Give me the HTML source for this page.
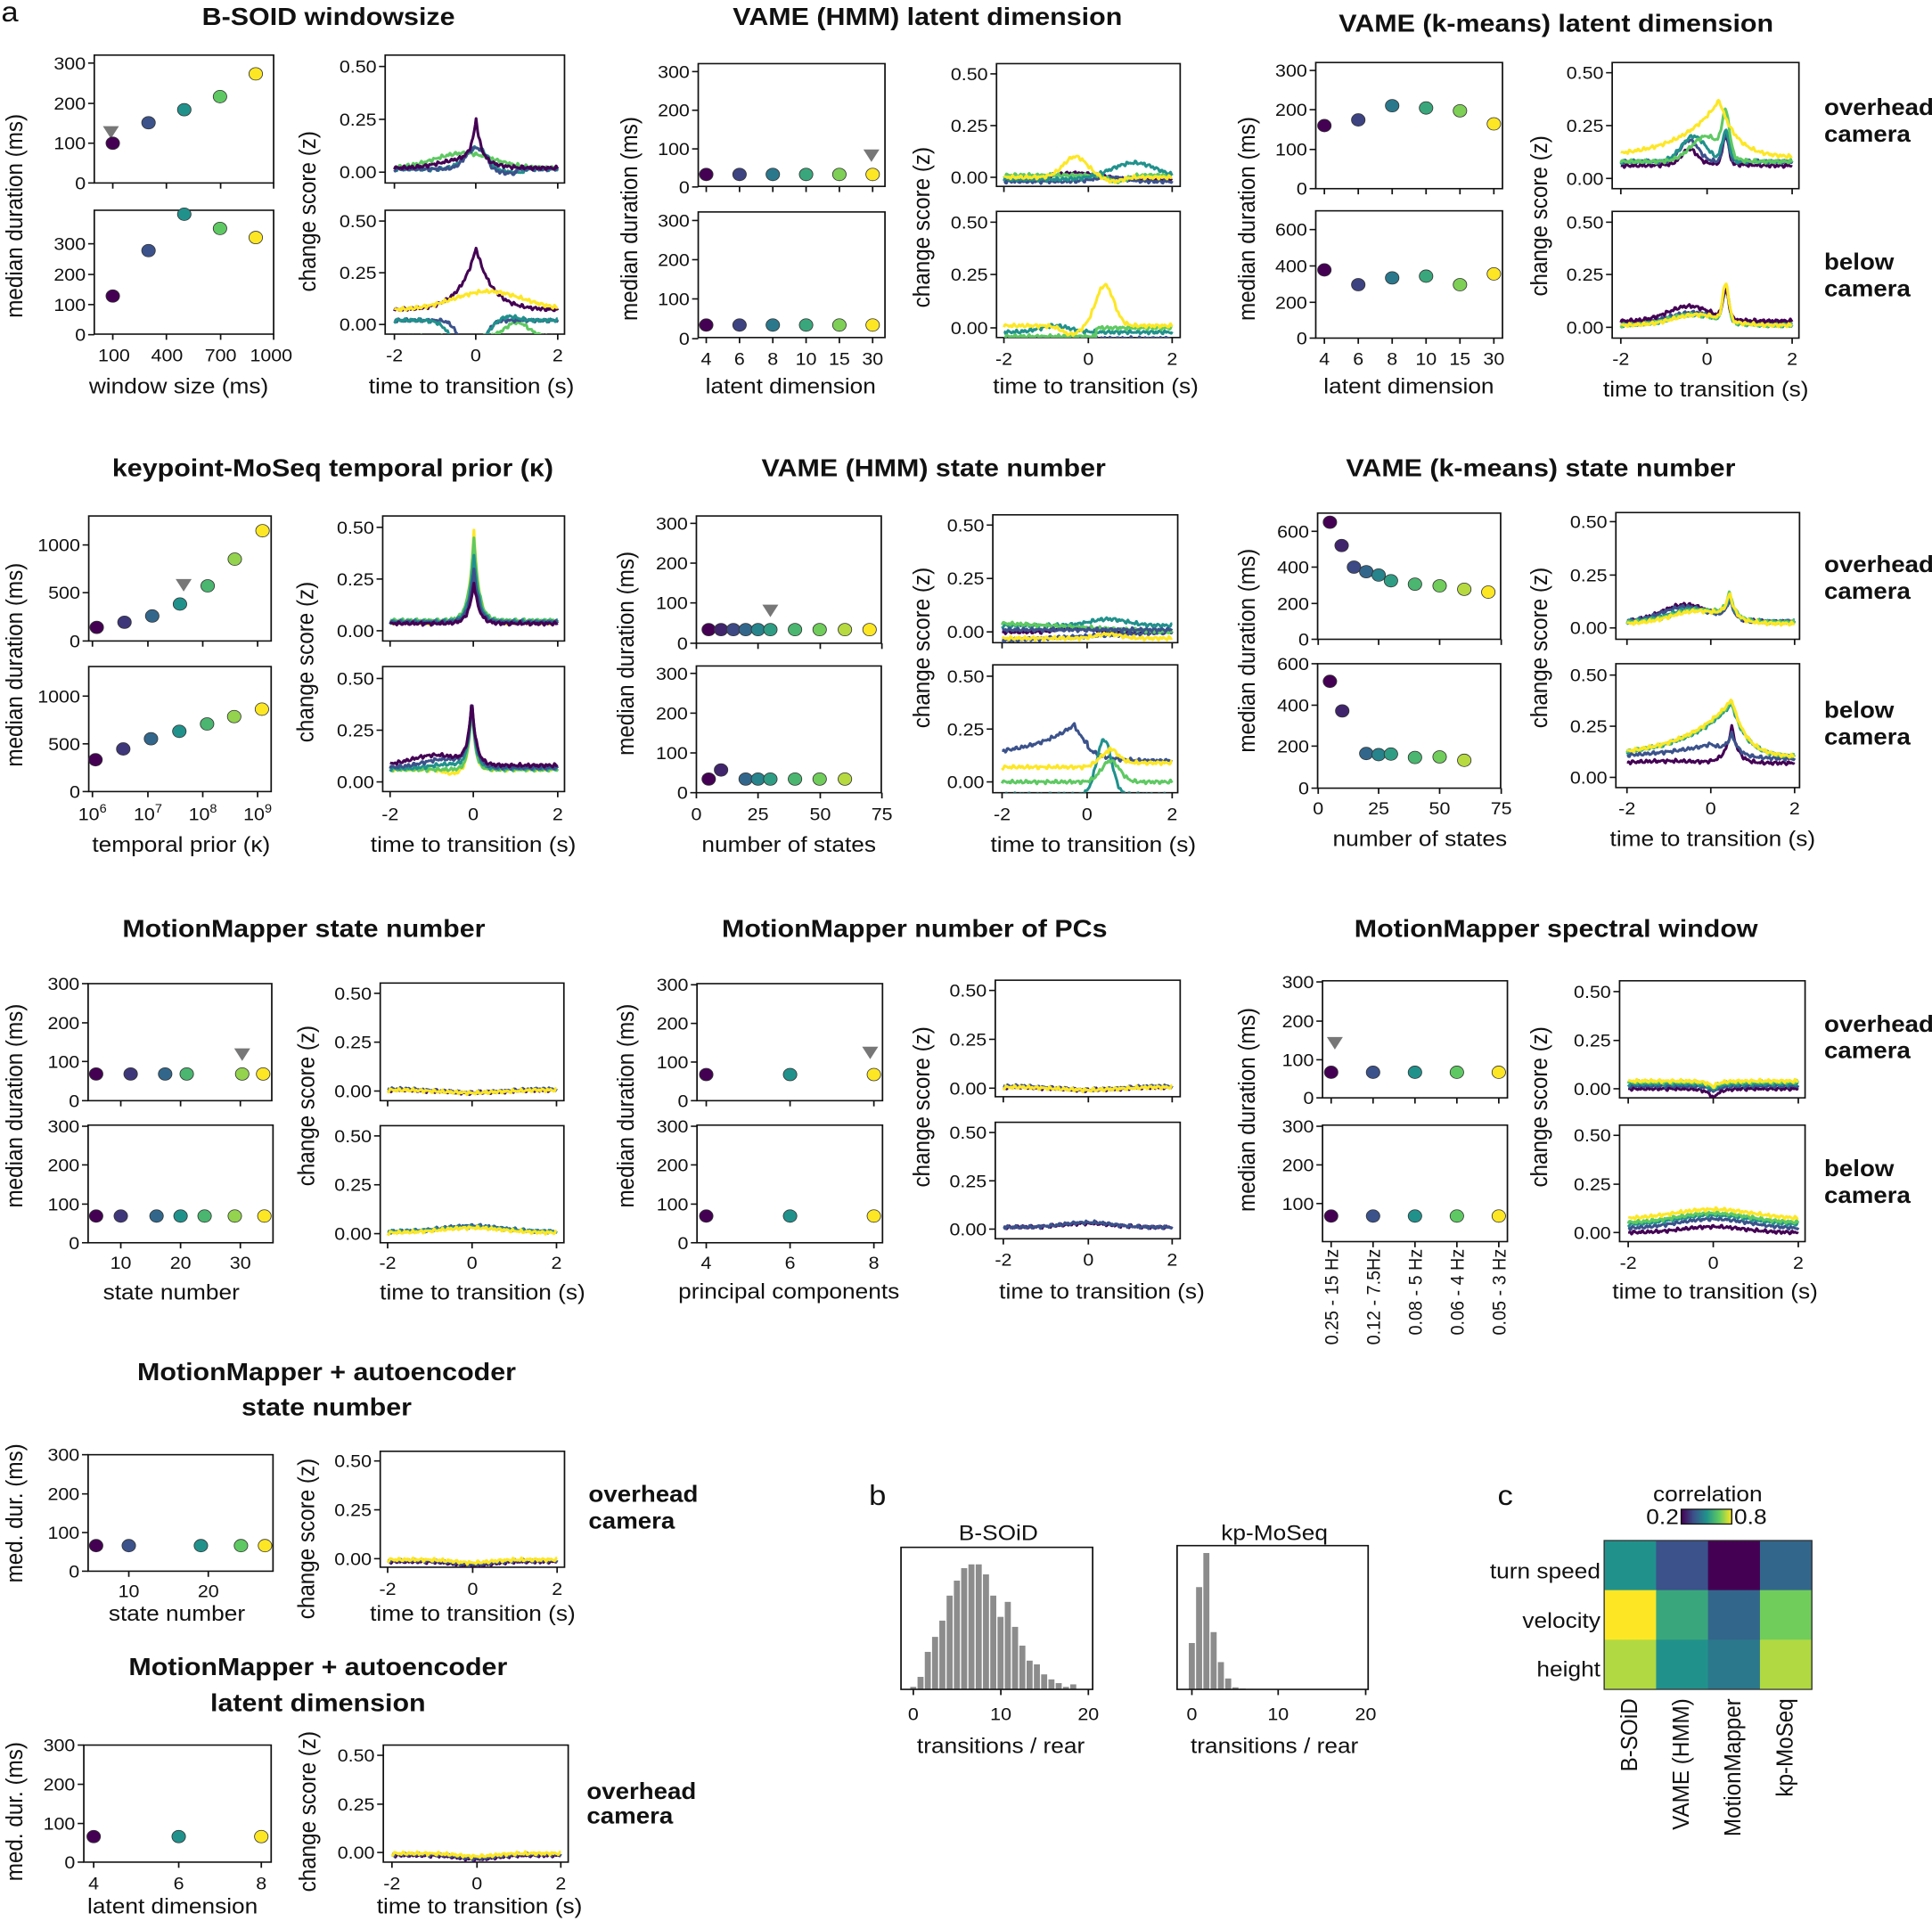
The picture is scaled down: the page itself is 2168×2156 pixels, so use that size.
<!DOCTYPE html>
<html><head><meta charset="utf-8">
<style>
html,body{margin:0;padding:0;background:#fff}
svg{display:block}
text{font-family:"Liberation Sans",sans-serif;fill:#111}
.t{font-size:31px}
.l{font-size:38px}
.h{font-size:44px;font-weight:bold}
.b{font-size:40px;font-weight:bold}
.p{font-size:50px}
</style></head><body>
<svg id="S" xmlns="http://www.w3.org/2000/svg" width="2168" height="2156" viewBox="0 0 2168 2156">
<defs><linearGradient id="vg" x1="0" x2="1" y1="0" y2="0">
<stop offset="0" stop-color="#440154"/><stop offset=".25" stop-color="#3b528b"/><stop offset=".5" stop-color="#21918c"/><stop offset=".75" stop-color="#5ec962"/><stop offset="1" stop-color="#fde725"/></linearGradient></defs>
<rect width="2168" height="2156" fill="#fff"/>
<g id="T" transform="scale(0.69156,0.63776)">
<text class="p" x="2" y="38">a</text>
<text class="h" x="533" y="44" text-anchor="middle">B-SOID windowsize</text>
<text class="h" x="1505" y="44" text-anchor="middle">VAME (HMM) latent dimension</text>
<text class="h" x="2525" y="56" text-anchor="middle">VAME (k-means) latent dimension</text>
<text class="h" x="540" y="838" text-anchor="middle">keypoint-MoSeq temporal prior (κ)</text>
<text class="h" x="1515" y="838" text-anchor="middle">VAME (HMM) state number</text>
<text class="h" x="2500" y="838" text-anchor="middle">VAME (k-means) state number</text>
<g class="b"><text x="2960" y="202">overhead</text><text x="2960" y="249">camera</text><text x="2960" y="474">below</text><text x="2960" y="521">camera</text>
<text x="2960" y="1007">overhead</text><text x="2960" y="1054">camera</text><text x="2960" y="1263">below</text><text x="2960" y="1310">camera</text></g>
<!-- y labels -->
<g class="l" text-anchor="middle">
<text transform="translate(36,380) rotate(-90)">median duration (ms)</text>
<text transform="translate(512,372) rotate(-90)">change score (z)</text>
<text transform="translate(1034,385) rotate(-90)">median duration (ms)</text>
<text transform="translate(1508,400) rotate(-90)">change score (z)</text>
<text transform="translate(2036,385) rotate(-90)">median duration (ms)</text>
<text transform="translate(2510,380) rotate(-90)">change score (z)</text>
<text transform="translate(36,1170) rotate(-90)">median duration (ms)</text>
<text transform="translate(508,1165) rotate(-90)">change score (z)</text>
<text transform="translate(1028,1150) rotate(-90)">median duration (ms)</text>
<text transform="translate(1508,1140) rotate(-90)">change score (z)</text>
<text transform="translate(2036,1145) rotate(-90)">median duration (ms)</text>
<text transform="translate(2510,1140) rotate(-90)">change score (z)</text>
<text x="290" y="692">window size (ms)</text>
<text x="765" y="692">time to transition (s)</text>
<text x="1283" y="692">latent dimension</text>
<text x="1778" y="692">time to transition (s)</text>
<text x="2286" y="692">latent dimension</text>
<text x="2768" y="698">time to transition (s)</text>
<text x="294" y="1499">temporal prior (κ)</text>
<text x="768" y="1499">time to transition (s)</text>
<text x="1280" y="1499">number of states</text>
<text x="1774" y="1499">time to transition (s)</text>
<text x="2304" y="1489">number of states</text>
<text x="2779" y="1489">time to transition (s)</text>
</g>
<g class="t" text-anchor="end">
<!-- B-SOID scatter -->
<text x="139" y="122">300</text><text x="139" y="193">200</text><text x="139" y="263">100</text><text x="139" y="333">0</text>
<text x="139" y="440">300</text><text x="139" y="494">200</text><text x="139" y="547">100</text><text x="139" y="600">0</text>
<text x="611" y="128">0.50</text><text x="611" y="221">0.25</text><text x="611" y="314">0.00</text>
<text x="611" y="400">0.50</text><text x="611" y="491">0.25</text><text x="611" y="582">0.00</text>
<!-- VAME HMM latent -->
<text x="1119" y="137">300</text><text x="1119" y="205">200</text><text x="1119" y="273">100</text><text x="1119" y="340">0</text>
<text x="1119" y="399">300</text><text x="1119" y="468">200</text><text x="1119" y="537">100</text><text x="1119" y="607">0</text>
<text x="1603" y="141">0.50</text><text x="1603" y="232">0.25</text><text x="1603" y="323">0.00</text>
<text x="1603" y="402">0.50</text><text x="1603" y="494">0.25</text><text x="1603" y="588">0.00</text>
<!-- VAME kmeans latent -->
<text x="2121" y="135">300</text><text x="2121" y="204">200</text><text x="2121" y="274">100</text><text x="2121" y="343">0</text>
<text x="2121" y="415">600</text><text x="2121" y="479">400</text><text x="2121" y="543">200</text><text x="2121" y="606">0</text>
<text x="2602" y="139">0.50</text><text x="2602" y="232">0.25</text><text x="2602" y="325">0.00</text>
<text x="2602" y="402">0.50</text><text x="2602" y="494">0.25</text><text x="2602" y="587">0.00</text>
<!-- kp-MoSeq -->
<text x="130" y="970">1000</text><text x="130" y="1054">500</text><text x="130" y="1139">0</text>
<text x="130" y="1236">1000</text><text x="130" y="1320">500</text><text x="130" y="1404">0</text>
<text x="607" y="939">0.50</text><text x="607" y="1030">0.25</text><text x="607" y="1121">0.00</text>
<text x="607" y="1205">0.50</text><text x="607" y="1296">0.25</text><text x="607" y="1387">0.00</text>
<!-- VAME HMM state -->
<text x="1116" y="932">300</text><text x="1116" y="1002">200</text><text x="1116" y="1072">100</text><text x="1116" y="1143">0</text>
<text x="1116" y="1196">300</text><text x="1116" y="1266">200</text><text x="1116" y="1336">100</text><text x="1116" y="1406">0</text>
<text x="1597" y="935">0.50</text><text x="1597" y="1029">0.25</text><text x="1597" y="1123">0.00</text>
<text x="1597" y="1201">0.50</text><text x="1597" y="1294">0.25</text><text x="1597" y="1387">0.00</text>
<!-- VAME kmeans state -->
<text x="2124" y="946">600</text><text x="2124" y="1009">400</text><text x="2124" y="1073">200</text><text x="2124" y="1136">0</text>
<text x="2124" y="1179">600</text><text x="2124" y="1252">400</text><text x="2124" y="1324">200</text><text x="2124" y="1398">0</text>
<text x="2608" y="929">0.50</text><text x="2608" y="1023">0.25</text><text x="2608" y="1116">0.00</text>
<text x="2608" y="1199">0.50</text><text x="2608" y="1289">0.25</text><text x="2608" y="1379">0.00</text>
</g>
<g class="t" text-anchor="middle">
<text x="185" y="636">100</text><text x="271" y="636">400</text><text x="358" y="636">700</text><text x="440" y="636">1000</text>
<text x="640" y="636">-2</text><text x="772" y="636">0</text><text x="905" y="636">2</text>
<text x="1146" y="642">4</text><text x="1200" y="642">6</text><text x="1254" y="642">8</text><text x="1308" y="642">10</text><text x="1362" y="642">15</text><text x="1416" y="642">30</text>
<text x="1629" y="642">-2</text><text x="1766" y="642">0</text><text x="1902" y="642">2</text>
<text x="2149" y="642">4</text><text x="2204" y="642">6</text><text x="2259" y="642">8</text><text x="2314" y="642">10</text><text x="2369" y="642">15</text><text x="2424" y="642">30</text>
<text x="2630" y="642">-2</text><text x="2770" y="642">0</text><text x="2908" y="642">2</text>
<text x="150" y="1443">10<tspan font-size="21" dy="-13">6</tspan></text><text x="240" y="1443">10<tspan font-size="21" dy="-13">7</tspan></text><text x="329" y="1443">10<tspan font-size="21" dy="-13">8</tspan></text><text x="418" y="1443">10<tspan font-size="21" dy="-13">9</tspan></text>
<text x="633" y="1443">-2</text><text x="768" y="1443">0</text><text x="905" y="1443">2</text>
<text x="1130" y="1443">0</text><text x="1230" y="1443">25</text><text x="1331" y="1443">50</text><text x="1431" y="1443">75</text>
<text x="1626" y="1443">-2</text><text x="1764" y="1443">0</text><text x="1902" y="1443">2</text>
<text x="2139" y="1433">0</text><text x="2237" y="1433">25</text><text x="2336" y="1433">50</text><text x="2436" y="1433">75</text>
<text x="2640" y="1433">-2</text><text x="2776" y="1433">0</text><text x="2912" y="1433">2</text>
</g>
</g>

<g id="B" transform="translate(0,1000) scale(0.69156,0.63776)">
<text class="h" x="493" y="81" text-anchor="middle">MotionMapper state number</text>
<text class="h" x="1484" y="81" text-anchor="middle">MotionMapper number of PCs</text>
<text class="h" x="2525" y="81" text-anchor="middle">MotionMapper spectral window</text>
<text class="h" x="530" y="861" text-anchor="middle">MotionMapper + autoencoder</text>
<text class="h" x="530" y="923" text-anchor="middle">state number</text>
<text class="h" x="516" y="1380" text-anchor="middle">MotionMapper  + autoencoder</text>
<text class="h" x="516" y="1443" text-anchor="middle">latent dimension</text>
<g class="b"><text x="2960" y="248">overhead</text><text x="2960" y="294">camera</text><text x="2960" y="502">below</text><text x="2960" y="549">camera</text>
<text x="955" y="1075">overhead</text><text x="955" y="1122">camera</text>
<text x="952" y="1598">overhead</text><text x="952" y="1641">camera</text></g>
<text class="p" x="1410" y="1080">b</text>
<text class="p" x="2430" y="1080">c</text>
<g class="l" text-anchor="middle">
<text transform="translate(36,378) rotate(-90)">median duration (ms)</text>
<text transform="translate(510,378) rotate(-90)">change score (z)</text>
<text transform="translate(1028,378) rotate(-90)">median duration (ms)</text>
<text transform="translate(1508,380) rotate(-90)">change score (z)</text>
<text transform="translate(2036,385) rotate(-90)">median duration (ms)</text>
<text transform="translate(2510,380) rotate(-90)">change score (z)</text>
<text transform="translate(36,1095) rotate(-90)">med. dur. (ms)</text>
<text transform="translate(510,1140) rotate(-90)">change score (z)</text>
<text transform="translate(36,1620) rotate(-90)">med. dur. (ms)</text>
<text transform="translate(512,1620) rotate(-90)">change score (z)</text>
<text x="278" y="719">state number</text>
<text x="783" y="719">time to transition (s)</text>
<text x="1280" y="717">principal components</text>
<text x="1788" y="717">time to transition (s)</text>
<text x="2783" y="717">time to transition (s)</text>
<text x="287" y="1284">state number</text>
<text x="767" y="1284">time to transition (s)</text>
<text x="280" y="1799">latent dimension</text>
<text x="778" y="1799">time to transition (s)</text>
<text x="1620" y="1142">B-SOiD</text>
<text x="2068" y="1142">kp-MoSeq</text>
<text x="1624" y="1517">transitions / rear</text>
<text x="2068" y="1517">transitions / rear</text>
<text x="2771" y="1074">correlation</text>
</g>
<g class="l" text-anchor="end">
<text x="2724" y="1114">0.2</text>
<text x="2597" y="1210">turn speed</text><text x="2597" y="1297">velocity</text><text x="2597" y="1382">height</text>
<text transform="translate(2656,1421) rotate(-90)">B-SOiD</text>
<text transform="translate(2740,1421) rotate(-90)">VAME (HMM)</text>
<text transform="translate(2824,1421) rotate(-90)">MotionMapper</text>
<text transform="translate(2909,1421) rotate(-90)">kp-MoSeq</text>
</g>
<text class="l" x="2814" y="1114">0.8</text>
<rect x="2728" y="1088" width="82" height="26" fill="url(#vg)" stroke="#111" stroke-width="2"/>
<g class="t" text-anchor="end">
<text x="129" y="174">300</text><text x="129" y="243">200</text><text x="129" y="311">100</text><text x="129" y="380">0</text>
<text x="129" y="425">300</text><text x="129" y="493">200</text><text x="129" y="562">100</text><text x="129" y="630">0</text>
<text x="603" y="191">0.50</text><text x="603" y="277">0.25</text><text x="603" y="363">0.00</text>
<text x="603" y="442">0.50</text><text x="603" y="528">0.25</text><text x="603" y="614">0.00</text>
<text x="1117" y="176">300</text><text x="1117" y="244">200</text><text x="1117" y="312">100</text><text x="1117" y="380">0</text>
<text x="1117" y="425">300</text><text x="1117" y="493">200</text><text x="1117" y="562">100</text><text x="1117" y="630">0</text>
<text x="1601" y="186">0.50</text><text x="1601" y="272">0.25</text><text x="1601" y="358">0.00</text>
<text x="1601" y="436">0.50</text><text x="1601" y="521">0.25</text><text x="1601" y="606">0.00</text>
<text x="2132" y="171">300</text><text x="2132" y="240">200</text><text x="2132" y="308">100</text><text x="2132" y="375">0</text>
<text x="2132" y="425">300</text><text x="2132" y="493">200</text><text x="2132" y="561">100</text>
<text x="2614" y="188">0.50</text><text x="2614" y="274">0.25</text><text x="2614" y="359">0.00</text>
<text x="2614" y="441">0.50</text><text x="2614" y="527">0.25</text><text x="2614" y="612">0.00</text>
<text x="129" y="1003">300</text><text x="129" y="1072">200</text><text x="129" y="1140">100</text><text x="129" y="1208">0</text>
<text x="603" y="1014">0.50</text><text x="603" y="1100">0.25</text><text x="603" y="1186">0.00</text>
<text x="122" y="1514">300</text><text x="122" y="1583">200</text><text x="122" y="1652">100</text><text x="122" y="1720">0</text>
<text x="608" y="1532">0.50</text><text x="608" y="1618">0.25</text><text x="608" y="1703">0.00</text>
</g>
<g class="t" text-anchor="middle">
<text x="196" y="665">10</text><text x="293" y="665">20</text><text x="390" y="665">30</text>
<text x="629" y="665">-2</text><text x="766" y="665">0</text><text x="903" y="665">2</text>
<text x="1146" y="665">4</text><text x="1282" y="665">6</text><text x="1418" y="665">8</text>
<text x="1628" y="659">-2</text><text x="1766" y="659">0</text><text x="1902" y="659">2</text>
<text x="2642" y="665">-2</text><text x="2780" y="665">0</text><text x="2918" y="665">2</text>
<text x="209" y="1243">10</text><text x="338" y="1243">20</text>
<text x="629" y="1239">-2</text><text x="767" y="1239">0</text><text x="904" y="1239">2</text>
<text x="152" y="1757">4</text><text x="290" y="1757">6</text><text x="424" y="1757">8</text>
<text x="636" y="1757">-2</text><text x="774" y="1757">0</text><text x="910" y="1757">2</text>
<text x="1482" y="1459">0</text><text x="1624" y="1459">10</text><text x="1766" y="1459">20</text>
<text x="1934" y="1459">0</text><text x="2074" y="1459">10</text><text x="2216" y="1459">20</text>
</g>
<g class="t" text-anchor="end">
<text transform="translate(2171,630) rotate(-90)">0.25 - 15 Hz</text>
<text transform="translate(2239,630) rotate(-90)">0.12 - 7.5Hz</text>
<text transform="translate(2307,630) rotate(-90)">0.08 - 5 Hz</text>
<text transform="translate(2375,630) rotate(-90)">0.06 - 4 Hz</text>
<text transform="translate(2443,630) rotate(-90)">0.05 - 3 Hz</text>
</g>
</g>
</svg>
<script>
(function(){
var NS="http://www.w3.org/2000/svg";
function el(p,n,a){var e=document.createElementNS(NS,n);for(var k in a)e.setAttribute(k,a[k]);p.appendChild(e);return e;}
var st=[[68,1,84],[59,82,139],[33,145,140],[94,201,98],[253,231,37]];
function vir(f){f=Math.max(0,Math.min(1,f))*4;var i=Math.min(3,Math.floor(f)),r=f-i,a=st[i],b=st[i+1];
return "rgb("+[0,1,2].map(function(j){return Math.round(a[j]+(b[j]-a[j])*r)}).join(",")+")";}
function vc(i,n){return vir(n<2?0:i/(n-1));}
var T=document.getElementById("T"),B=document.getElementById("B");
var cid=0;
function frame(g,b,yt,xt){
 el(g,"rect",{x:b[0],y:b[1],width:b[2]-b[0],height:b[3]-b[1],fill:"none",stroke:"#111","stroke-width":2.5});
 yt.forEach(function(y){el(g,"line",{x1:b[0]-10,x2:b[0],y1:y,y2:y,stroke:"#111","stroke-width":2.5});});
 (xt||[]).forEach(function(x){el(g,"line",{x1:x,x2:x,y1:b[3],y2:b[3]+10,stroke:"#111","stroke-width":2.5});});
}
function scat(g,b,yt,xt,xs,ys,cols,tri){
 frame(g,b,yt,xt);
 var n=xs.length;
 if(tri)el(g,"polygon",{points:(tri[0]-13)+","+(tri[1]-11)+" "+(tri[0]+13)+","+(tri[1]-11)+" "+tri[0]+","+(tri[1]+11),fill:"#777"});
 for(var i=0;i<n;i++){var y=Array.isArray(ys)?ys[i]:ys;
  el(g,"circle",{cx:xs[i],cy:y,r:11,fill:cols?cols[i]:vc(i,n),stroke:"#333","stroke-width":1.2});}
}
function G(t,c,w){return Math.exp(-Math.pow((t-c)/w,2));}
function C(t,c,w){return Math.exp(-Math.abs(t-c)/w);}
function A(t,c,wl,wr){return t<c?Math.exp((t-c)/wl):Math.exp(-(t-c)/wr);}
function nz(t,s){return 0.004*(Math.sin(37*t+s)+Math.sin(61*t+2*s)+0.7*Math.sin(91*t+3*s));}
var L={
bs1:[[3,function(t){return .02+.07*G(t,-.3,1.0)}],[2,function(t){return .015+.1*G(t,0,.4)-(t>.3&&t<1.2?.015:0)}],[1,function(t){return .015+.1*G(t,0,.35)-(t>.3&&t<1?.02:0)}],[0,function(t){return .02+.2*C(t,0,.12)+.04*G(t,-.3,.8)}]],
bs2:[[3,function(t){return -.06+.07*G(t,1,.4)}],[1,function(t){return .02-.2*G(t,-.1,.35)+(t>.5?.0:0)}],[2,function(t){return .02-.2*G(t,-.2,.45)+.02*G(t,.8,.3)}],[0,function(t){return .07+.3*C(t,0,.4)}],[4,function(t){return .07+.09*G(t,.3,1.2)}]],
vh1:[[0,function(t){return -.01+.03*G(t,-.3,.8)}],[1,function(t){return -.02+.02*G(t,.5,.5)}],[3,function(t){return .01-.03*G(t,.7,.3)}],[2,function(t){return -.01+.08*G(t,1.1,.8)}],[4,function(t){return .0+.1*G(t,-.3,.4)-.02*G(t,.6,.3)}]],
vh2:[[1,function(t){return -.05}],[2,function(t){return -.02+.03*G(t,-.8,.5)}],[3,function(t){return t>.2?0:-.04}],[4,function(t){return .01+.19*G(t,.4,.3)-.04*G(t,-.4,.3)}]],
vk1:[[0,function(t){return .06+.07*G(t,-.4,.25)+.13*G(t,.45,.1)+.01*G(t,0,1)}],[1,function(t){return .08+.1*G(t,-.4,.3)+.13*G(t,.45,.1)}],[2,function(t){return .08+.12*G(t,-.3,.4)+.14*G(t,.45,.12)}],[3,function(t){return .08+.12*G(t,0,.5)+.19*G(t,.45,.12)}],[4,function(t){return .1+.27*A(t,.3,.9,.4)}]],
vk2:[[1,function(t){return .02+.05*G(t,-.3,.8)+.14*G(t,.45,.1)}],[2,function(t){return .01+.05*G(t,-.3,.8)+.15*G(t,.45,.1)}],[3,function(t){return .01+.05*G(t,-.3,.8)+.16*G(t,.45,.1)}],[0,function(t){return .03+.07*G(t,-.4,.7)+.13*G(t,.45,.1)}],[4,function(t){return .01+.05*G(t,-.2,.8)+.17*G(t,.45,.1)}]],
kp1:[[4,function(t){return .04+.44*C(t,0,.12)}],[3,function(t){return .05+.4*C(t,0,.12)}],[2,function(t){return .045+.32*C(t,0,.12)}],[1,function(t){return .04+.26*C(t,0,.12)}],[0,function(t){return .035+.2*C(t,0,.12)}]],
kp2:[[4,function(t){return .06+.33*C(t,-.05,.08)-.02*G(t,-.5,.3)}],[3,function(t){return .06+.33*C(t,-.05,.08)}],[2,function(t){return .065+.32*C(t,-.05,.09)+.02*G(t,-.6,.6)}],[1,function(t){return .07+.31*C(t,-.05,.1)+.04*G(t,-.7,.7)}],[0,function(t){return .08+.3*C(t,-.05,.1)+.05*G(t,-.9,.8)}]],
vhs1:[[0,function(t){return .0+.02*G(t,-.3,.5)}],[1,function(t){return -.02+.01*t}],[2,function(t){return .03+.03*G(t,.5,.6)}],[3,function(t){return .02-.01*t}],[4,function(t){return -.03+.02*G(t,.5,.4)}],[1,function(t){return .01}]],
vhs2:[[1,function(t){return .12+.15*A(t,-.3,1,.35)-.02*(t>0?1:0)}],[2,function(t){return -.06+.26*G(t,.4,.25)}],[4,function(t){return .07+.07*G(t,.5,.3)+.02*(t>.5?1:0)}],[3,function(t){return .0+.1*G(t,.55,.3)}]],
vks1:[[0,function(t){return .03+.08*G(t,-.6,.8)+.1*C(t,.45,.12)}],[1,function(t){return .03+.07*G(t,-.6,.8)+.1*C(t,.45,.12)}],[2,function(t){return .03+.06*G(t,-.4,.8)+.11*C(t,.45,.12)}],[3,function(t){return .025+.06*G(t,-.3,.9)+.12*C(t,.45,.12)}],[4,function(t){return .02+.06*G(t,-.3,.9)+.12*C(t,.45,.12)}]],
vks2:[[0,function(t){return .07+.18*C(t,.5,.15)+.01*G(t,-1,1)}],[1,function(t){return .09+.07*A(t,0,1.5,.5)+.1*C(t,.5,.15)}],[2,function(t){return .1+.26*A(t,.5,1.1,.35)}],[3,function(t){return .1+.27*A(t,.5,1.1,.35)}],[4,function(t){return .1+.28*A(t,.5,1.1,.35)}]],
mm1:[[0,function(t){return .005-.015*Math.max(0,1-Math.abs(t)/1.5)}],[1,function(t){return .01-.02*Math.max(0,1-Math.abs(t)/1.5)}],[4,function(t){return .005-.015*Math.max(0,1-Math.abs(t)/1.5)}]],
mm2:[[1,function(t){return .01+.03*G(t,0,1)}],[2,function(t){return .01+.025*G(t,0,1)}],[4,function(t){return .005+.025*G(t,0,1)}]],
pc2:[[0,function(t){return .01+.02*G(t,0,.8)}],[1,function(t){return .01+.025*G(t,0,.8)}]],
sw1:[[0,function(t){return .0-.05*C(t,0,.15)}],[1,function(t){return .015-.03*C(t,0,.15)}],[2,function(t){return .025-.03*C(t,0,.15)}],[3,function(t){return .035-.03*C(t,0,.15)}],[4,function(t){return .04-.03*C(t,0,.15)}]],
sw2:[[0,function(t){return .0+.03*G(t,0,1)}],[1,function(t){return .02+.05*G(t,0,1.2)}],[2,function(t){return .04+.05*G(t,0,1.2)}],[3,function(t){return .05+.05*G(t,0,1.2)}],[4,function(t){return .07+.05*G(t,0,1.3)}]],
ae:[[0,function(t){return -.015-.02*G(t,0,.6)}],[1,function(t){return -.01-.02*G(t,0,.6)}],[4,function(t){return -.005-.015*G(t,0,.6)}]]
};
function lp(g,b,y,x,key){
 frame(g,b,y,x);
 var id="c"+(cid++);
 var cp=el(g,"clipPath",{id:id});el(cp,"rect",{x:b[0],y:b[1],width:b[2]-b[0],height:b[3]-b[1]});
 var k=(y[2]-y[1])/0.25, x0=x[0], x1=x[2];
 L[key].forEach(function(ln,li){var d="";
  for(var i=0;i<=200;i++){var t=-2+4*i/200;var v=ln[1](t)+nz(t,li+1);
   d+=(i?"L":"M")+(x0+(x1-x0)*i/200).toFixed(1)+","+(y[2]-v*k).toFixed(1);}
  el(g,"path",{d:d,fill:"none",stroke:vir(ln[0]/4),"stroke-width":4.5,"clip-path":"url(#"+id+")","stroke-linejoin":"round"});});
}
var c10=function(idx){return idx.map(function(i){return vc(i,10)});};
// top scatters
scat(T,[153,97,444,322],[111,182,252,322],[183,270,358,444],[183,241,299,357,415],[252,216,193,170,130],null,[180,233]);
scat(T,[153,370,444,588],[429,483,536,589],[183,270,358,444],[183,241,299,357,415],[521,441,377,402,418]);
var xv=[1146,1200,1254,1308,1362,1416];
scat(T,[1133,112,1436,328],[126,194,262,329],xv,xv,307,null,[1414,274]);
scat(T,[1133,373,1436,594],[388,457,526,596],xv,xv,572);
var xk=[2149,2204,2259,2314,2369,2424];
scat(T,[2135,110,2438,332],[124,193,263,332],xk,xk,[221,211,186,190,195,218]);
scat(T,[2135,371,2438,595],[404,468,532,595],xk,xk,[475,501,489,486,501,482]);
scat(T,[144,908,440,1128],[959,1043,1128],[150,240,329,418],[157,202,247,292,337,381,426],[1104,1095,1084,1063,1031,984,934],null,[298,1030]);
scat(T,[144,1173,440,1393],[1225,1309,1393],[150,240,329,418],[155,200,245,291,336,380,425],[1337,1318,1300,1287,1274,1261,1248]);
scat(T,[1130,908,1430,1132],[921,991,1061,1132],[1130,1230,1331,1431],[1150,1170,1190,1210,1230,1250,1290,1330,1371,1411],1108,null,[1250,1075]);
scat(T,[1130,1172,1430,1395],[1185,1255,1325,1395],[1130,1230,1331,1431],[1150,1170,1210,1230,1250,1290,1330,1371],[1371,1355,1371,1371,1371,1371,1371,1371],c10([0,1,3,4,5,6,7,8]));
scat(T,[2138,903,2435,1125],[935,998,1062,1125],[2139,2237,2336,2436],[2158,2177,2197,2217,2237,2257,2296,2336,2376,2415],[919,960,998,1006,1012,1022,1028,1031,1037,1042]);
scat(T,[2138,1168,2435,1387],[1168,1241,1313,1387],[2139,2237,2336,2436],[2158,2178,2217,2237,2257,2296,2336,2376],[1199,1251,1326,1328,1327,1333,1332,1338],c10([0,1,3,4,5,6,7,8]));
// top lines
lp(T,[625,97,916,322],[117,210,303],[640,772,905],"bs1");
lp(T,[625,370,916,588],[389,480,571],[640,772,905],"bs2");
lp(T,[1617,112,1915,328],[130,221,312],[1629,1766,1902],"vh1");
lp(T,[1617,372,1915,594],[391,483,577],[1629,1766,1902],"vh2");
lp(T,[2616,110,2919,332],[128,221,314],[2630,2770,2908],"vk1");
lp(T,[2616,372,2919,595],[391,483,576],[2630,2770,2908],"vk2");
lp(T,[621,908,916,1128],[928,1019,1110],[633,768,905],"kp1");
lp(T,[621,1173,916,1393],[1194,1285,1376],[633,768,905],"kp2");
lp(T,[1611,906,1911,1131],[924,1018,1112],[1626,1764,1902],"vhs1");
lp(T,[1611,1170,1911,1395],[1190,1283,1376],[1626,1764,1902],"vhs2");
lp(T,[2622,902,2920,1125],[918,1012,1105],[2640,2776,2912],"vks1");
lp(T,[2622,1168,2920,1386],[1188,1278,1368],[2640,2776,2912],"vks2");
// bottom scatters
var c7=function(idx){return idx.map(function(i){return vc(i,7)});};
scat(B,[143,163,441,369],[163,232,300,369],[196,293,390],[156,212,268,303,393,427],322,c7([0,1,2,4,5,6]),[393,288]);
scat(B,[143,412,443,619],[414,482,551,619],[196,293,390],[156,196,254,293,332,381,429],572);
scat(B,[1131,163,1432,369],[165,233,301,369],[1146,1282,1418],[1146,1282,1418],323,null,[1412,285]);
scat(B,[1131,412,1432,619],[414,482,551,619],[1146,1282,1418],[1146,1282,1418],572);
var xs5=[2160,2228,2296,2364,2432];
scat(B,[2146,158,2446,364],[160,229,297,364],xs5,xs5,319,null,[2166,268]);
scat(B,[2146,412,2446,617],[414,482,550],xs5,xs5,572);
scat(B,[143,992,443,1197],[992,1061,1129,1197],[209,338],[156,209,326,391,430],1152);
scat(B,[136,1503,440,1709],[1503,1572,1641,1709],[152,290,424],[152,290,424],1664);
lp(B,[617,162,915,369],[180,266,352],[629,766,903],"mm1");
lp(B,[617,413,915,619],[431,517,603],[629,766,903],"mm2");
lp(B,[1615,157,1915,362],[175,261,347],[1628,1766,1902],"mm1");
lp(B,[1615,407,1915,612],[425,510,595],[1628,1766,1902],"pc2");
lp(B,[2628,158,2929,364],[177,263,348],[2642,2780,2918],"sw1");
lp(B,[2628,412,2929,617],[430,516,601],[2642,2780,2918],"sw2");
lp(B,[617,986,916,1190],[1003,1089,1175],[629,767,904],"ae");
lp(B,[622,1503,922,1709],[1521,1607,1692],[636,774,910],"ae");
// histograms
function hist(b,x0,w,hs,hmax,xt){
 hs.forEach(function(h,i){if(h>0)el(B,"rect",{x:x0+i*w+1,y:b[3]-h*hmax,width:w-2,height:h*hmax,fill:"#8c8c8c"});});
 el(B,"rect",{x:b[0],y:b[1],width:b[2]-b[0],height:b[3]-b[1],fill:"none",stroke:"#111","stroke-width":2.5});
 xt.forEach(function(x){el(B,"line",{x1:x,x2:x,y1:b[3],y2:b[3]+10,stroke:"#111","stroke-width":2.5});});
}
hist([1462,1155,1773,1405],1476,11.8,[.02,.1,.3,.42,.55,.75,.87,.97,1,1,.92,.75,.58,.7,.5,.35,.23,.2,.12,.08,.05,.02,.04,0],220,[1482,1624,1766]);
hist([1910,1152,2220,1405],1928,11.8,[.34,.75,1,.42,.2,.08,.015,.006,.004],240,[1934,2074,2216]);
// heatmap
var hm=[[.5,.25,0,.33],[1,.6,.33,.78],[.88,.5,.4,.88]];
for(var r=0;r<3;r++)for(var c=0;c<4;c++)el(B,"rect",{x:2603+c*84.25,y:1143+r*87.3,width:85,height:88,fill:vir(hm[r][c])});
el(B,"rect",{x:2603,y:1143,width:337,height:262,fill:"none",stroke:"#333","stroke-width":2});
})();
</script>
</body></html>
